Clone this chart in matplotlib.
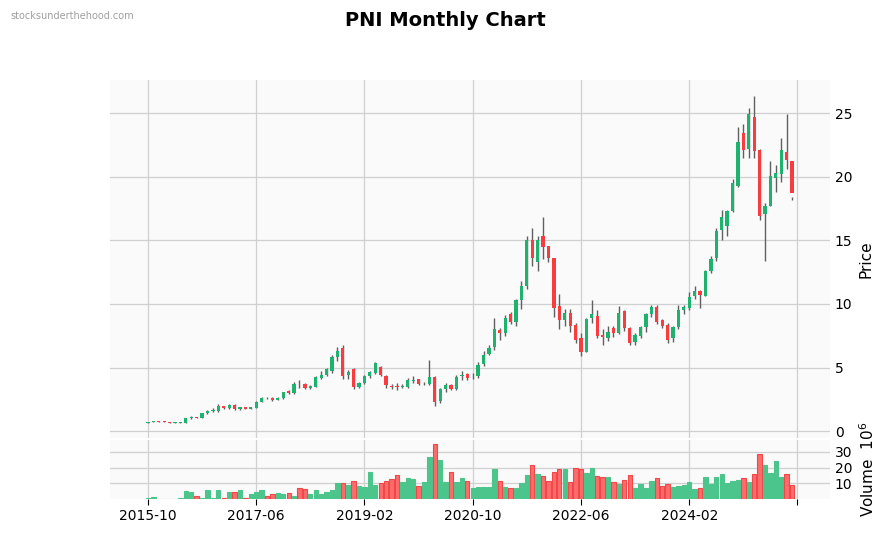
import matplotlib
matplotlib.use("Agg")
import matplotlib.pyplot as plt
import numpy as np

opens = [0.62,0.70,0.76,0.75,0.72,0.64,0.64,0.67,1.00,1.08,1.07,1.40,1.60,1.55,1.95,1.80,2.05,1.70,1.85,1.72,
         1.85,2.30,2.60,2.62,2.48,2.62,3.15,3.00,3.72,3.70,3.40,3.50,4.20,4.40,4.75,5.80,6.50,4.40,4.90,3.50,
         3.80,4.30,4.60,5.00,4.30,3.55,3.55,3.50,3.50,3.95,4.05,3.80,3.70,4.20,2.40,3.30,3.60,3.30,4.30,4.50,
         4.30,4.30,5.30,6.10,6.60,7.90,7.70,9.20,8.60,10.30,11.40,15.00,13.30,15.30,14.50,13.60,9.80,8.70,9.30,8.30,
         7.30,6.20,8.90,9.00,7.50,7.30,8.10,7.70,9.40,8.10,7.00,7.50,8.20,9.20,9.70,8.70,8.30,7.30,8.20,9.50,
         9.70,10.60,11.00,10.60,12.60,13.60,15.80,16.10,17.30,19.30,23.40,22.20,24.70,22.10,17.10,17.70,19.90,20.20,21.90,21.20]
closes = [0.68,0.76,0.75,0.74,0.65,0.66,0.67,1.00,1.08,1.07,1.40,1.60,1.62,1.95,1.80,2.05,1.70,1.85,1.72,1.85,
          2.30,2.60,2.58,2.48,2.62,3.05,3.00,3.70,3.68,3.40,3.50,4.20,4.40,4.90,5.80,6.30,4.30,4.60,3.50,3.80,
          4.30,4.60,5.30,4.40,3.60,3.50,3.50,3.55,4.00,4.00,3.70,3.80,4.20,2.30,3.30,3.60,3.30,4.20,4.40,4.20,
          4.30,5.20,6.00,6.50,8.00,7.70,8.90,8.60,10.30,11.40,15.00,13.60,15.00,14.50,13.60,9.70,8.70,9.30,8.30,7.20,
          6.20,8.80,9.20,7.50,7.40,7.80,7.70,9.30,8.10,6.90,7.50,8.20,9.20,9.70,8.60,8.30,7.20,8.20,9.50,9.70,
          10.50,11.00,10.70,12.60,13.50,15.70,16.80,17.30,19.50,22.70,22.10,24.90,22.00,16.90,17.70,20.00,20.30,22.10,21.30,18.70]
highs = [0.70,0.78,0.80,0.80,0.74,0.68,0.70,1.05,1.15,1.12,1.45,1.65,1.80,2.10,2.00,2.10,2.10,1.90,1.90,1.90,
         2.40,2.70,2.70,2.65,2.70,3.10,3.20,3.90,4.00,3.75,3.60,4.30,4.70,5.00,6.00,6.60,6.80,4.80,5.00,3.90,
         4.40,4.70,5.40,5.10,4.40,3.70,3.80,3.70,4.20,4.30,4.10,3.90,5.60,4.30,3.40,3.80,3.70,4.40,4.70,4.60,
         4.60,5.40,6.30,6.80,8.90,8.10,9.10,9.40,10.40,11.80,15.30,16.00,15.30,16.80,14.40,13.60,10.80,9.60,9.60,8.50,
         7.70,8.90,10.30,9.50,8.00,8.30,8.30,9.80,9.50,8.20,7.70,8.30,9.30,9.90,9.90,8.80,8.50,8.30,9.90,9.90,
         10.90,11.40,11.10,12.70,13.80,16.00,17.40,17.40,19.80,23.90,24.10,25.40,26.30,22.20,17.90,21.20,20.90,23.00,24.90,18.40]
lows = [0.60,0.68,0.72,0.70,0.62,0.62,0.62,0.65,0.98,1.00,1.05,1.35,1.50,1.50,1.75,1.75,1.65,1.65,1.70,1.70,
        1.80,2.25,2.50,2.40,2.45,2.55,2.95,2.95,3.40,3.30,3.30,3.50,4.10,4.30,4.60,5.50,4.10,4.10,3.30,3.40,
        3.70,4.20,4.50,4.30,3.40,3.30,3.20,3.40,3.40,3.80,3.60,3.60,3.60,2.00,2.20,3.10,3.20,3.20,4.00,4.00,
        4.10,4.20,5.10,6.00,6.40,7.20,7.50,8.40,8.30,9.60,11.20,13.00,12.60,13.50,13.30,9.00,8.00,8.30,7.80,6.90,
        5.90,6.20,8.50,7.30,6.80,7.10,7.40,7.60,7.90,6.80,6.80,7.30,7.80,9.00,8.40,8.10,6.90,7.00,8.00,9.20,
        9.50,10.40,9.70,10.60,12.40,13.40,15.00,15.30,17.20,19.20,21.50,21.50,21.50,16.60,13.40,17.70,18.80,19.60,20.60,18.20]
volumes = [0.3,1.0,0.2,0.2,0.2,0.2,0.5,4.8,4.2,1.7,0.6,5.4,0.6,5.4,0.6,4.2,4.2,5.4,0.6,3.1,
           4.2,5.4,1.7,3.1,3.8,3.1,3.8,1.7,7.2,6.6,3.1,5.4,3.1,4.4,5.4,10.2,10.2,8.7,11.2,8.1,
           7.7,17.3,8.7,10.0,11.4,12.5,15.2,11.0,13.1,12.5,8.5,11.0,26.6,34.8,25.0,10.6,17.3,10.6,13.1,11.7,
           7.0,7.6,7.6,7.6,18.9,11.7,7.6,7.0,7.0,10.0,15.2,21.9,15.6,14.4,11.7,17.3,19.4,18.9,10.6,20.0,
           19.4,16.3,19.9,14.7,13.7,14.3,11.0,9.7,12.4,15.4,6.9,9.7,6.9,11.7,13.1,8.1,9.7,7.3,8.1,9.2,
           11.0,6.3,6.9,14.3,9.4,14.3,16.0,9.9,11.7,12.4,13.1,10.6,15.6,28.5,21.8,16.8,24.3,14.3,16.0,8.8]
tick_pos = [0, 20, 40, 60, 80, 100, 120]
tick_labels = ["2015-10", "2017-06", "2019-02", "2020-10", "2022-06", "2024-02", ""]

UP, DN = "#1db36e", "#f83c40"
VUP, VDN = "#4cc58c", "#ff6b6b"

fig = plt.figure(figsize=(8.91, 5.33), dpi=100)
ax = fig.add_axes([0.1235, 0.178, 0.808, 0.672])
axv = fig.add_axes([0.1235, 0.064, 0.808, 0.110], sharex=ax)
for a in (ax, axv):
    a.set_facecolor("#fafafa")
    a.grid(True, color="#d0d0d0", linewidth=0.9)
    a.set_axisbelow(True)
    for s in a.spines.values():
        s.set_visible(False)
    a.yaxis.tick_right()
    a.yaxis.set_label_position("right")
    a.tick_params(length=0, labelsize=10)

x = np.arange(len(opens))
o = np.array(opens); c = np.array(closes); h = np.array(highs); l = np.array(lows)
up = c >= o
cols = np.where(up, UP, DN)
ax.vlines(x, l, h, color="#606060", linewidth=1.0, zorder=2)
ax.bar(x, np.abs(c - o) + 0.02, bottom=np.minimum(o, c), width=0.6, color=cols, zorder=3)
ax.set_ylim(-0.55, 27.6)
ax.set_yticks([0, 5, 10, 15, 20, 25])
ax.set_ylabel("Price", fontsize=11)
ax.set_xlim(-7, 126)
plt.setp(ax.get_xticklabels(), visible=False)

axv.bar(x, volumes, width=0.8, color=np.where(up, VUP, VDN),
        edgecolor=np.where(up, VUP, "#f04848"), linewidth=0.8, zorder=3)
axv.set_ylim(0, 37.5)
axv.set_yticks([10, 20, 30])
axv.set_ylabel("Volume  $10^6$", fontsize=11)
axv.set_xticks(tick_pos)
axv.set_xticklabels(tick_labels)
axv.tick_params(axis="x", length=4, labelsize=10)

fig.suptitle("PNI Monthly Chart", fontsize=14, fontweight="bold", y=0.98)
fig.text(0.012, 0.965, "stocksunderthehood.com", fontsize=7, color="#a0a0a0")
fig.savefig("out.png", dpi=100)
